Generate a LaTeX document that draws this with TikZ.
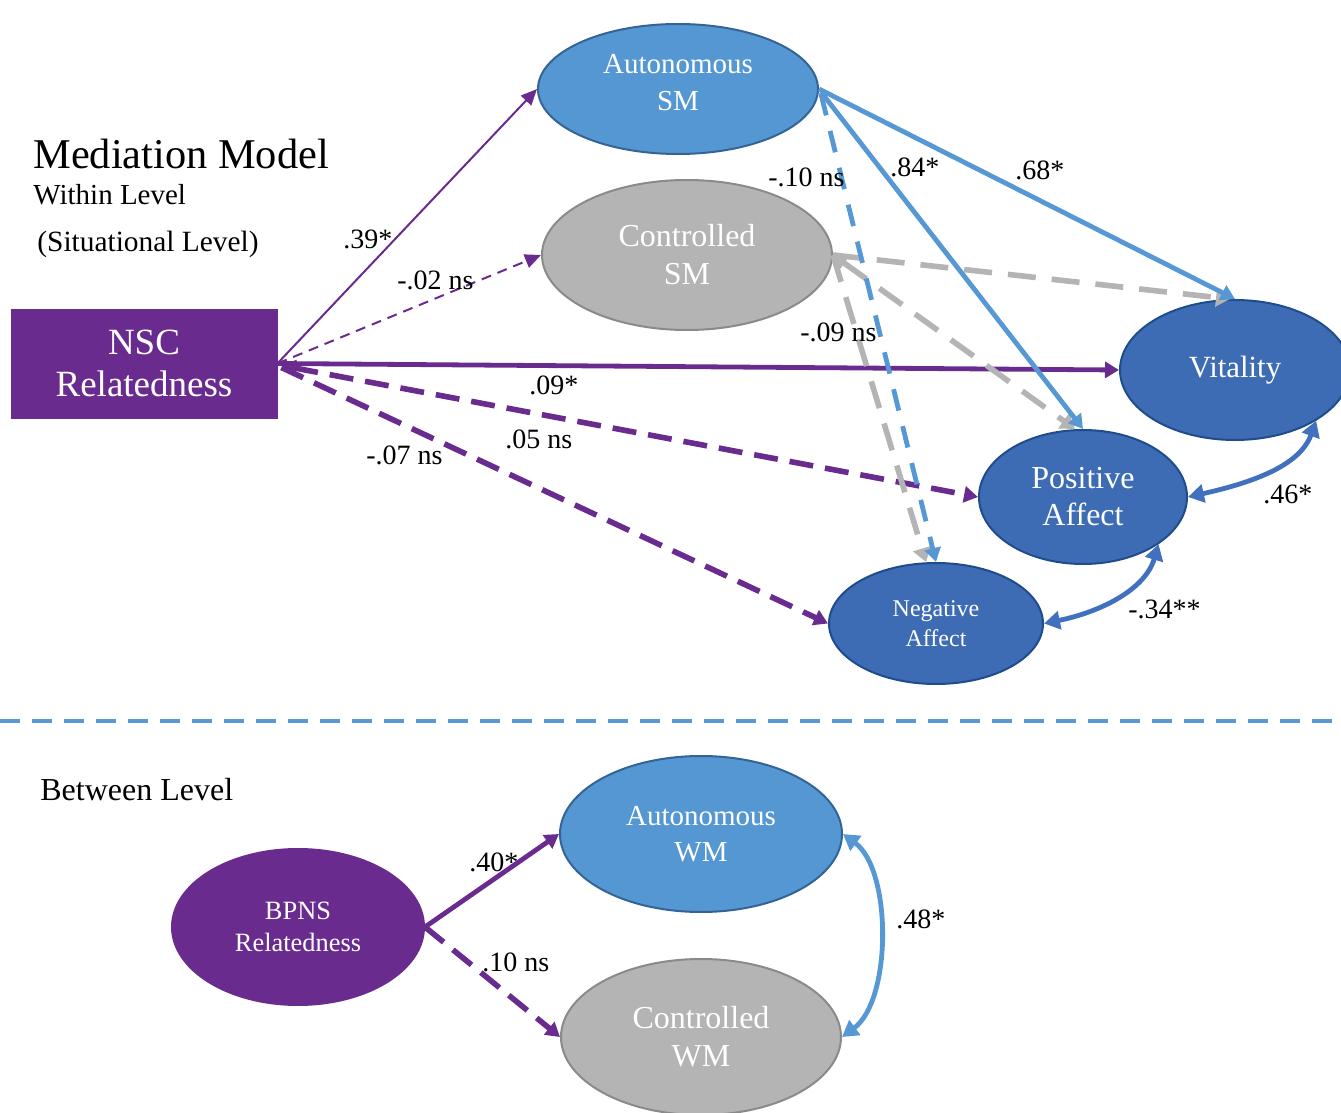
\documentclass[tikz,border=0pt]{standalone}
\usepackage{fontspec}
\setmainfont{Liberation Serif}
\usetikzlibrary{shapes.geometric,arrows.meta,calc}

\definecolor{relpurple}{RGB}{106,43,143}
\definecolor{autblue}{RGB}{84,151,211}
\definecolor{autedge}{RGB}{52,100,150}
\definecolor{outblue}{RGB}{61,108,180}
\definecolor{outedge}{RGB}{30,76,140}
\definecolor{ctrlgray}{RGB}{180,180,180}
\definecolor{ctrledge}{RGB}{138,138,138}
\definecolor{linkblue}{RGB}{85,152,212}
\definecolor{corrblue}{RGB}{64,112,190}
\definecolor{splitblue}{RGB}{88,152,212}

% two centred lines, drawn a little above the centre of their shape
\newcommand{\raisedpair}[3]{\raisebox{#1}[\height][\depth]{\begin{tabular}{@{}c@{}}#2\\#3\end{tabular}}}

\tikzset{
  latent/.style={ellipse, draw, line width=1pt, inner sep=0pt, text=white, align=center},
  autnode/.style={latent, fill=autblue, draw=autedge},
  ctrlnode/.style={latent, fill=ctrlgray, draw=ctrledge},
  outnode/.style={latent, fill=outblue, draw=outedge},
  relnode/.style={latent, fill=relpurple, draw=relpurple},
  lbl/.style={anchor=base west, inner sep=0pt, font=\fontsize{14}{16}\selectfont},
  heading/.style={anchor=base west, inner sep=0pt},
  thinpath/.style={-{Triangle[length=8pt,width=7pt]}, line width=1pt, draw=relpurple},
  thinns/.style={thinpath, dash pattern=on 5pt off 3.5pt},
  boldpath/.style={-{Triangle[length=7pt,width=8pt]}, line width=2.4pt, draw=relpurple},
  boldns/.style={boldpath, line width=2.8pt, dash pattern=on 12pt off 6pt},
  autpath/.style={-{Triangle[length=7pt,width=8pt]}, line width=2.4pt, draw=linkblue},
  autns/.style={autpath, dash pattern=on 11pt off 8pt},
  ctrlns/.style={-{Triangle[length=7pt,width=9pt]}, line width=2.8pt, draw=ctrlgray, dash pattern=on 14pt off 8pt},
  corr/.style={{Triangle[length=8pt,width=9pt]}-{Triangle[length=8pt,width=9pt]}, line width=2.4pt, draw=corrblue},
  corrlight/.style={corr, draw=linkblue}
}

\begin{document}
\begin{tikzpicture}[x=0.5pt,y=-0.5pt]
\useasboundingbox (0,0) rectangle (1341,1113);

% ---------- within level ----------
\node[heading, font=\fontsize{21.2}{24}\selectfont] (title) at (33,169) {Mediation Model};
\node[heading, font=\fontsize{14.5}{17}\selectfont] (within) at (33,205) {Within Level};
\node[heading, font=\fontsize{14.7}{17}\selectfont] (situational) at (37,252) {(Situational Level)};

\node[rectangle, fill=relpurple, draw=relpurple, text=white, align=center,
      minimum width=133pt, minimum height=54.5pt, inner sep=0pt,
      font=\fontsize{18.5}{21}\selectfont] (nsc) at (144,363.5) {NSC\\Relatedness};

\node[autnode, minimum width=140pt, minimum height=65pt,
      font=\fontsize{14.5}{18.5}\selectfont] (autsm) at (678,89) {\raisedpair{2pt}{Autonomous}{SM}};
\node[ctrlnode, minimum width=145pt, minimum height=75pt,
      font=\fontsize{16}{19}\selectfont] (ctrlsm) at (687,255) {Controlled\\SM};
\node[outnode, minimum width=115pt, minimum height=70pt,
      font=\fontsize{15.4}{18}\selectfont] (vit) at (1235,370) {Vitality};
\node[outnode, minimum width=104pt, minimum height=67pt,
      font=\fontsize{16}{18.5}\selectfont] (pos) at (1083,497) {Positive\\Affect};
\node[outnode, minimum width=107pt, minimum height=60.5pt,
      font=\fontsize{12}{15}\selectfont] (neg) at (936,623.5) {Negative\\Affect};

% paths from NSC relatedness
\draw[thinpath] (nsc.east) -- (autsm.west);
\draw[thinns] (nsc.east) -- (ctrlsm.west);
\draw[boldpath] (nsc.east) -- (vit.west);
\draw[boldns, {Triangle[length=7pt,width=8pt]}-{Triangle[length=7pt,width=8pt]}] ($(nsc.east)+(4,2)$) -- (pos.west);
\draw[boldns] ($(nsc.east)+(4,4)$) -- (neg.west);

% paths from the situational motivations
\draw[ctrlns] (ctrlsm.east) -- ($(vit.north)+(-5,0)$);
\draw[ctrlns, {Triangle[length=7pt,width=9pt]}-{Triangle[length=7pt,width=9pt]}] (ctrlsm.east) -- ($(pos.north)+(-8,0)$);
\draw[ctrlns] (ctrlsm.east) -- ($(neg.north)+(-10,0)$);
\draw[autns] ($(autsm.east)+(2,5)$) -- (neg.north);
\draw[autpath] ($(autsm.east)+(2,3)$) -- (pos.north);
\draw[autpath] (autsm.east) -- (vit.north);

% correlations among outcomes
\draw[corr] (pos.east) .. controls (1255,482) and (1300,465) .. (vit.-32);
\draw[corr] (neg.east) .. controls (1100,612) and (1145,590) .. (pos.-32);

\node[lbl] (l39) at (343,249) {.39*};
\node[lbl] (l02) at (397,290) {-.02 ns};
\node[lbl] (l09a) at (529,394) {.09*};
\node[lbl] (l05) at (505,448) {.05 ns};
\node[lbl] (l07) at (366,464) {-.07 ns};
\node[lbl] (l10) at (768,187) {-.10 ns};
\node[lbl] (l84) at (890,177) {.84*};
\node[lbl] (l68) at (1015,180) {.68*};
\node[lbl] (l09b) at (800,342) {-.09 ns};
\node[lbl] (l46) at (1263,503) {.46*};
\node[lbl] (l34) at (1128,618) {-.34**};

% ---------- level separator ----------
\coordinate (sepL) at (0,721);
\coordinate (sepR) at (1341,721);
\draw[splitblue, line width=2pt, dash pattern=on 10pt off 6pt] (sepL) -- (sepR);

% ---------- between level ----------
\node[heading, font=\fontsize{16}{19}\selectfont] (between) at (40,800) {Between Level};

\node[relnode, minimum width=126pt, minimum height=78pt,
      font=\fontsize{13.2}{16}\selectfont] (bpns) at (298,927) {BPNS\\Relatedness};
\node[autnode, minimum width=141pt, minimum height=78pt,
      font=\fontsize{14.5}{18}\selectfont] (autwm) at (701,834) {Autonomous\\WM};
\node[ctrlnode, minimum width=140pt, minimum height=78pt,
      font=\fontsize{16}{19}\selectfont] (ctrlwm) at (701,1037) {Controlled\\WM};

\draw[boldpath] (bpns.east) -- (autwm.west);
\draw[boldns] (bpns.east) -- (ctrlwm.west);
\draw[corrlight] (autwm.east) .. controls (892,870) and (892,1000) .. (ctrlwm.east);

\node[lbl] (l40) at (469,871) {.40*};
\node[lbl] (l10b) at (482,971) {.10 ns};
\node[lbl] (l48) at (896,928) {.48*};
\end{tikzpicture}
\end{document}
